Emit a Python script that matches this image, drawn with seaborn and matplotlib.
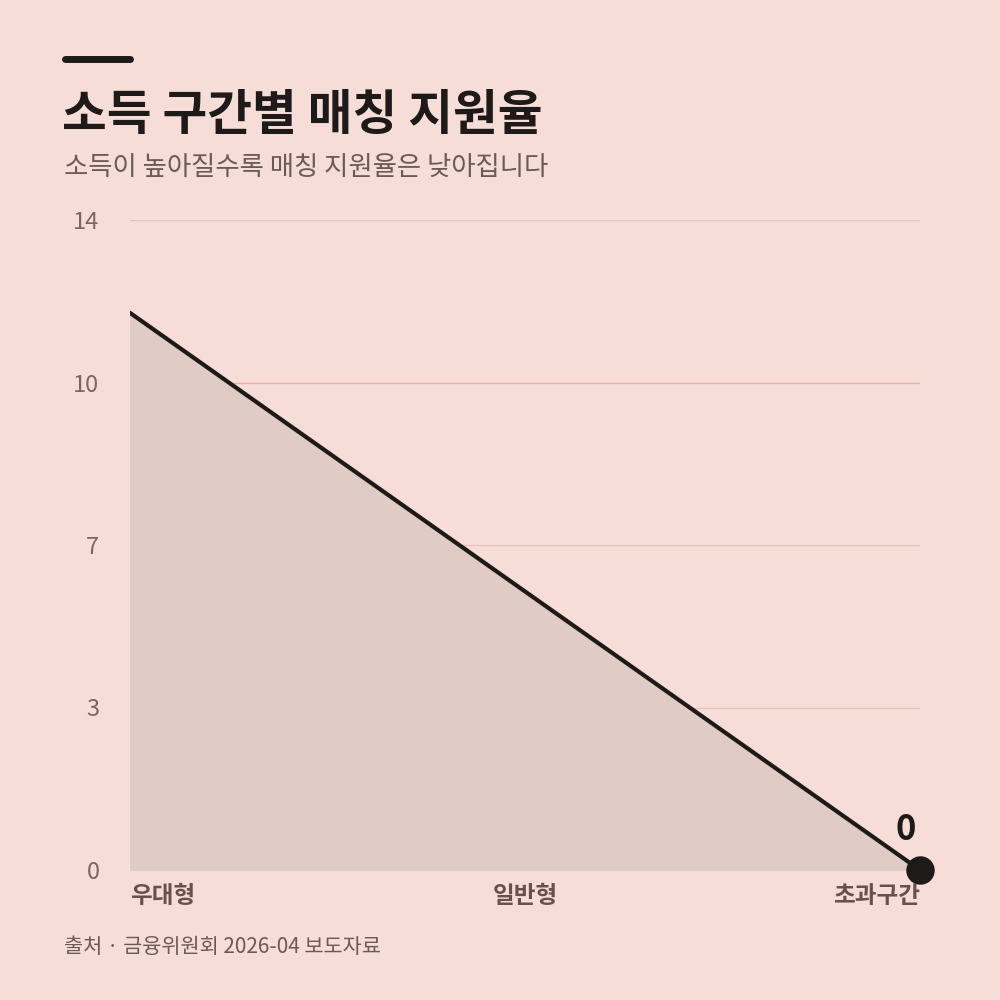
import matplotlib
matplotlib.use("Agg")
import matplotlib.pyplot as plt
import seaborn as sns
import pandas as pd

categories = ["우대형", "일반형", "초과구간"]
values = [12, 6, 0]
ytick_vals = [0, 3.5, 7, 10.5, 14]
ytick_labels = ["0", "3", "7", "10", "14"]

sns.set_style("white")
plt.rcParams['font.family'] = ['Noto Sans CJK KR', 'DejaVu Sans']
BG = "#F7DDD7"
fig = plt.figure(figsize=(10, 10), dpi=100, facecolor=BG)
ax = fig.add_axes([0.13, 0.13, 0.79, 0.65], facecolor=BG)
df = pd.DataFrame({"x": range(len(categories)), "y": values})
ax.fill_between(df["x"], df["y"], 0, color="#E0CBC5", zorder=1)
sns.lineplot(data=df, x="x", y="y", ax=ax, color="#1E1A1A", linewidth=3, zorder=3)
ax.scatter([df["x"].iloc[-1]], [df["y"].iloc[-1]], s=380, color="#1E1A1A", zorder=4, clip_on=False)
ax.text(df["x"].iloc[-1] - 0.01, df["y"].iloc[-1] + 0.5, str(values[-1]), ha="right", va="bottom",
        fontsize=25, fontweight="bold", color="#1E1A1A")
ax.set_xlim(0, len(categories) - 1)
ax.set_ylim(0, 14)
ax.set_yticks(ytick_vals)
ax.set_yticklabels(ytick_labels, fontsize=17, color="#7A6663")
ax.set_xticks(range(len(categories)))
ax.set_xticklabels(categories, fontsize=17, fontweight="bold", color="#6B4F4A")
labs = ax.get_xticklabels()
labs[0].set_ha("left"); labs[-1].set_ha("right")
ax.tick_params(length=0, pad=10)
ax.tick_params(axis="y", pad=22)
for v in ytick_vals:
    ax.axhline(v, color="#EAB0A3" if v == 10.5 else "#E6C3BC", linewidth=1, zorder=0)
ax.set_xlabel(""); ax.set_ylabel("")
for s in ax.spines.values():
    s.set_visible(False)
fig.add_artist(plt.Line2D([0.065, 0.13], [0.941, 0.941], color="#1E1A1A", linewidth=5))
fig.text(0.062, 0.885, "소득 구간별 매칭 지원율", fontsize=35, fontweight="bold", color="#1E1A1A", va="center")
fig.text(0.064, 0.833, "소득이 높아질수록 매칭 지원율은 낮아집니다", fontsize=19, color="#6B5A57", va="center")
fig.text(0.064, 0.053, "출처 · 금융위원회 2026-04 보도자료", fontsize=15, color="#6B5A57", va="center")
fig.savefig("out.png", facecolor=BG)
